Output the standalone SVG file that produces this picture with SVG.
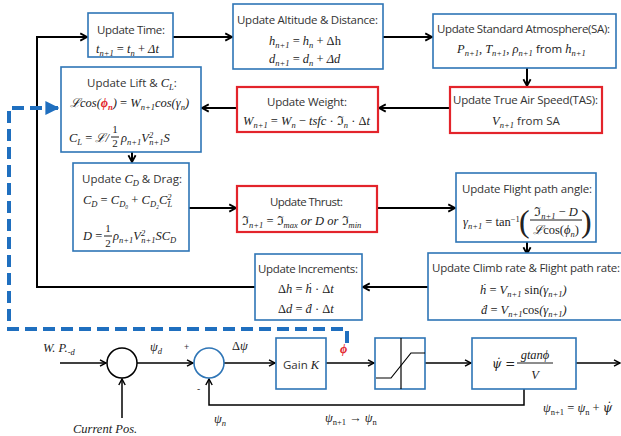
<svg xmlns="http://www.w3.org/2000/svg" width="621" height="436" viewBox="0 0 621 436">
<style>
.t{font-family:"Open Sans","Noto Sans",sans-serif;font-size:11.5px;fill:#333}
.m{font-family:"Liberation Serif","DejaVu Serif",serif;font-style:italic;font-size:12.5px;fill:#222}
.u{font-style:normal}
.s{font-size:8.5px;baseline-shift:-2.5px}
.p{font-size:8.5px;baseline-shift:4px}
.r{fill:#E3242B;font-weight:bold}
.bb{fill:#fff;stroke:#2E75B6;stroke-width:1.6}
.rb{fill:#fff;stroke:#E3242B;stroke-width:2.2}
.ln{fill:none;stroke:#000;stroke-width:2}
.ln2{fill:none;stroke:#000;stroke-width:1.5}
.fl{stroke:#000;stroke-width:0.9}
.dj{font-family:"DejaVu Serif",serif}
</style>
<defs>
<marker id="ah" viewBox="0 0 10 10" refX="9" refY="5" markerWidth="9" markerHeight="10" markerUnits="userSpaceOnUse" orient="auto">
<path d="M1.5,1 L9,5 L1.5,9" fill="none" stroke="#000" stroke-width="2"/>
</marker>
<marker id="ahs" viewBox="0 0 10 10" refX="9" refY="5" markerWidth="8" markerHeight="8" markerUnits="userSpaceOnUse" orient="auto">
<path d="M1.5,1 L9,5 L1.5,9" fill="none" stroke="#000" stroke-width="1.8"/>
</marker>
<marker id="bh" viewBox="0 0 10 10" refX="9" refY="5" markerWidth="14" markerHeight="17" markerUnits="userSpaceOnUse" orient="auto">
<path d="M0,0 L10,5 L0,10 Z" fill="#1F6FBF"/>
</marker>
</defs>

<g id="connectors">
<polyline class="ln" points="255,287 37,287 37,37 87,37" marker-end="url(#ah)"/>
<line class="ln" x1="173" y1="37" x2="232" y2="37" marker-end="url(#ah)"/>
<line class="ln" x1="383" y1="37" x2="432" y2="37" marker-end="url(#ah)"/>
<line class="ln" x1="527" y1="68" x2="527" y2="86" marker-end="url(#ah)"/>
<line class="ln" x1="450" y1="108" x2="379" y2="108" marker-end="url(#ah)"/>
<line class="ln" x1="237" y1="108" x2="202" y2="108" marker-end="url(#ah)"/>
<line class="ln" x1="132" y1="152" x2="132" y2="162" marker-end="url(#ah)"/>
<line class="ln" x1="189" y1="208" x2="236" y2="208" marker-end="url(#ah)"/>
<line class="ln" x1="377" y1="208" x2="455" y2="208" marker-end="url(#ah)"/>
<line class="ln" x1="527" y1="242" x2="527" y2="254" marker-end="url(#ah)"/>
<line class="ln" x1="428" y1="287" x2="363" y2="287" marker-end="url(#ah)"/>
<polyline points="347,343 347,329 9,329 9,108 58,108" fill="none" stroke="#1F6FBF" stroke-width="4" stroke-dasharray="12 6" marker-end="url(#bh)"/>
<line class="ln2" x1="60" y1="363" x2="106" y2="363" marker-end="url(#ahs)"/>
<line class="ln2" x1="122" y1="418" x2="122" y2="379" marker-end="url(#ahs)"/>
<line class="ln2" x1="137" y1="363" x2="193" y2="363" marker-end="url(#ahs)"/>
<line class="ln2" x1="224" y1="363" x2="275" y2="363" marker-end="url(#ahs)"/>
<line class="ln2" x1="326" y1="363" x2="374" y2="363" marker-end="url(#ahs)"/>
<line class="ln2" x1="425" y1="363" x2="471" y2="363" marker-end="url(#ahs)"/>
<line class="ln2" x1="576" y1="363" x2="620" y2="363" marker-end="url(#ahs)"/>
<polyline class="ln2" points="524,389 524,405 209,405 209,379" marker-end="url(#ahs)"/>
</g>

<g id="update-time">
<rect class="bb" x="88" y="13" width="85" height="44"/>
<text class="t" x="131" y="34" text-anchor="middle" textLength="68">Update Time:</text>
<text class="m" x="96" y="53">t<tspan class="s">n+1</tspan> <tspan class="u">=</tspan> t<tspan class="s">n</tspan> <tspan class="u">+</tspan> Δt</text>
</g>

<g id="update-altitude">
<rect class="bb" x="233" y="4" width="150" height="65"/>
<text class="t" x="307.5" y="24" text-anchor="middle" textLength="141">Update Altitude &amp; Distance:</text>
<text class="m" x="269" y="45">h<tspan class="s">n+1</tspan> <tspan class="u">=</tspan> h<tspan class="s">n</tspan> <tspan class="u">+ Δh</tspan></text>
<text class="m" x="269" y="63">d<tspan class="s">n+1</tspan> <tspan class="u">=</tspan> d<tspan class="s">n</tspan> <tspan class="u">+</tspan> Δd</text>
</g>

<g id="update-sa">
<rect class="bb" x="433" y="14" width="183" height="54"/>
<text class="t" x="523.5" y="33" text-anchor="middle" textLength="173">Update Standard Atmosphere(SA):</text>
<text class="m" x="457" y="53">P<tspan class="s">n+1</tspan><tspan class="u">,</tspan> T<tspan class="s">n+1</tspan><tspan class="u">,</tspan> ρ<tspan class="s">n+1</tspan> <tspan class="u" style="font-family:'Open Sans',sans-serif;font-size:11.5px">from</tspan> h<tspan class="s">n+1</tspan></text>
</g>

<g id="update-tas">
<rect class="rb" x="450" y="87" width="152" height="46"/>
<text class="t" x="525.5" y="104" text-anchor="middle" textLength="145">Update True Air Speed(TAS):</text>
<text class="m" x="492" y="125">V<tspan class="s">n+1</tspan> <tspan class="u" style="font-family:'Open Sans',sans-serif;font-size:11.5px;fill:#333">from SA</tspan></text>
</g>

<g id="update-weight">
<rect class="rb" x="237" y="87" width="141" height="45"/>
<text class="t" x="307" y="106" text-anchor="middle" textLength="80">Update Weight:</text>
<text class="m" x="243" y="125">W<tspan class="s">n+1</tspan> <tspan class="u">=</tspan> W<tspan class="s">n</tspan> <tspan class="u">−</tspan> tsfc <tspan class="u">·</tspan> <tspan class="u">ℑ</tspan><tspan class="s">n</tspan> <tspan class="u">·</tspan> <tspan class="u">Δ</tspan>t</text>
</g>

<g id="update-lift">
<rect class="bb" x="61" y="67" width="140" height="85"/>
<text class="t" x="87" y="87">Update Lift &amp; <tspan class="m" style="font-size:12.5px">C<tspan class="s">L</tspan></tspan>:</text>
<text class="m" x="70" y="107">ℒcos(<tspan class="r">ϕ<tspan class="s">n</tspan></tspan>) <tspan class="u">=</tspan> W<tspan class="s">n+1</tspan>cos(γ<tspan class="s">n</tspan>)</text>
<text class="m" x="69" y="142">C<tspan class="s">L</tspan> <tspan class="u">=</tspan> ℒ/</text>
<text class="m u" x="115" y="133" text-anchor="middle" style="font-size:11px">1</text>
<line class="fl" x1="111" y1="137" x2="119" y2="137"/>
<text class="m u" x="115" y="147" text-anchor="middle" style="font-size:11px">2</text>
<text class="m" x="121" y="142">ρ<tspan class="s">n+1</tspan>V<tspan class="p">2</tspan><tspan class="s" dx="-4">n+1</tspan>S</text>
</g>

<g id="update-cd">
<rect class="bb" x="73" y="163" width="116" height="88"/>
<text class="t" x="82" y="183">Update <tspan class="m" style="font-size:12.5px">C<tspan class="s">D</tspan></tspan> &amp; Drag:</text>
<text class="m" x="83" y="204">C<tspan class="s">D</tspan> <tspan class="u">=</tspan> C<tspan class="s">D₀</tspan> <tspan class="u">+</tspan> C<tspan class="s">D₂</tspan>C<tspan class="p">2</tspan><tspan class="s" dx="-4">L</tspan></text>
<text class="m" x="83" y="240">D <tspan class="u">=</tspan></text>
<text class="m u" x="108" y="232" text-anchor="middle" style="font-size:11px">1</text>
<line class="fl" x1="104" y1="236" x2="112" y2="236"/>
<text class="m u" x="108" y="247" text-anchor="middle" style="font-size:11px">2</text>
<text class="m" x="113" y="240">ρ<tspan class="s">n+1</tspan>V<tspan class="p">2</tspan><tspan class="s" dx="-4">n+1</tspan>SC<tspan class="s">D</tspan></text>
</g>

<g id="update-thrust">
<rect class="rb" x="237" y="186" width="140" height="46"/>
<text class="t" x="306.5" y="206" text-anchor="middle" textLength="73">Update Thrust:</text>
<text class="m" x="242" y="225"><tspan class="u">ℑ</tspan><tspan class="s">n+1</tspan> <tspan class="u">=</tspan> <tspan class="u">ℑ</tspan><tspan class="s">max</tspan> or D or <tspan class="u">ℑ</tspan><tspan class="s">min</tspan></text>
</g>

<g id="update-fpa">
<rect class="bb" x="456" y="173" width="140" height="69"/>
<text class="t" x="527" y="193" text-anchor="middle" textLength="130">Update Flight path angle:</text>
<text class="m" x="463" y="226">γ<tspan class="s">n+1</tspan> <tspan class="u">= tan</tspan><tspan class="p u">−1</tspan></text>
<text class="m u" x="519" y="232" style="font-size:32px;font-weight:300">(</text>
<text class="m u" x="581" y="232" style="font-size:32px;font-weight:300">)</text>
<text class="m" x="556" y="216" text-anchor="middle"><tspan class="u">ℑ</tspan><tspan class="s">n+1</tspan> <tspan class="u">−</tspan> D</text>
<line class="fl" x1="530" y1="220" x2="582" y2="220"/>
<text class="m" x="556" y="234" text-anchor="middle">ℒ<tspan class="u">cos(</tspan>ϕ<tspan class="s">n</tspan><tspan class="u">)</tspan></text>
</g>

<g id="update-climb">
<rect class="bb" x="428" y="253" width="195" height="67"/>
<text class="t" x="526" y="272" text-anchor="middle" textLength="188">Update Climb rate &amp; Flight path rate:</text>
<text class="m" x="480" y="294">ḣ <tspan class="u">=</tspan> V<tspan class="s">n+1</tspan> <tspan class="u">sin</tspan>(γ<tspan class="s">n+1</tspan>)</text>
<text class="m" x="481" y="314">ḋ <tspan class="u">=</tspan> V<tspan class="s">n+1</tspan><tspan class="u">cos</tspan>(γ<tspan class="s">n+1</tspan>)</text>
</g>

<g id="update-increments">
<rect class="bb" x="255" y="254" width="107" height="66"/>
<text class="t" x="308" y="273" text-anchor="middle" textLength="100">Update Increments:</text>
<text class="m" x="278" y="293"><tspan class="u">Δ</tspan>h <tspan class="u">=</tspan> ḣ <tspan class="u">·</tspan> <tspan class="u">Δ</tspan>t</text>
<text class="m" x="278" y="313"><tspan class="u">Δ</tspan>d <tspan class="u">=</tspan> ḋ <tspan class="u">·</tspan> <tspan class="u">Δ</tspan>t</text>
</g>

<g id="sum1">
<circle cx="122" cy="363" r="15" fill="#fff" stroke="#000" stroke-width="1.5"/>
</g>
<g id="sum2">
<circle cx="209" cy="363" r="15" fill="#fff" stroke="#2E75B6" stroke-width="1.6"/>
</g>

<g id="gain">
<rect class="bb" x="276" y="338" width="50" height="51"/>
<text class="t" x="283" y="369">Gain <tspan class="m" style="font-size:12.5px">K</tspan></text>
</g>

<g id="saturation">
<rect class="bb" x="375" y="338" width="50" height="51"/>
<line x1="401" y1="338" x2="401" y2="389" stroke="#000" stroke-width="1.2"/>
<polyline points="376,378 391,378 411,353 425,353" fill="none" stroke="#000" stroke-width="1.2"/>
</g>

<g id="psidot">
<rect class="bb" x="472" y="338" width="104" height="51"/>
<text class="m dj" x="492" y="368" style="font-size:12px">ψ̇ <tspan class="u">=</tspan></text>
<text class="m" x="535" y="359" text-anchor="middle">gtanϕ</text>
<line class="fl" x1="517" y1="363" x2="553" y2="363"/>
<text class="m" x="535" y="379" text-anchor="middle">V</text>
</g>

<g id="labels">
<text class="m" x="43" y="352">W. P.<tspan class="s">-d</tspan></text>
<text class="m" x="73" y="433">Current Pos.</text>
<text class="m" x="150" y="351">ψ<tspan class="s">d</tspan></text>
<text class="t" x="184" y="350" style="font-size:9px">+</text>
<text class="t" x="197" y="392" style="font-size:10px">-</text>
<text class="m" x="232" y="350"><tspan class="u">Δ</tspan>ψ</text>
<text class="m r" x="340" y="353">ϕ</text>
<text class="m" x="214" y="423">ψ<tspan class="s">n</tspan></text>
<text class="m" x="325" y="422">ψ<tspan class="s u">n+1</tspan> <tspan class="u">→</tspan> ψ<tspan class="s u">n</tspan></text>
<text class="m" x="543" y="412">ψ<tspan class="s u">n+1</tspan> <tspan class="u">=</tspan> ψ<tspan class="s u">n</tspan> <tspan class="u">+</tspan> <tspan class="dj" style="font-size:12px">ψ̇</tspan></text>
</g>
</svg>
